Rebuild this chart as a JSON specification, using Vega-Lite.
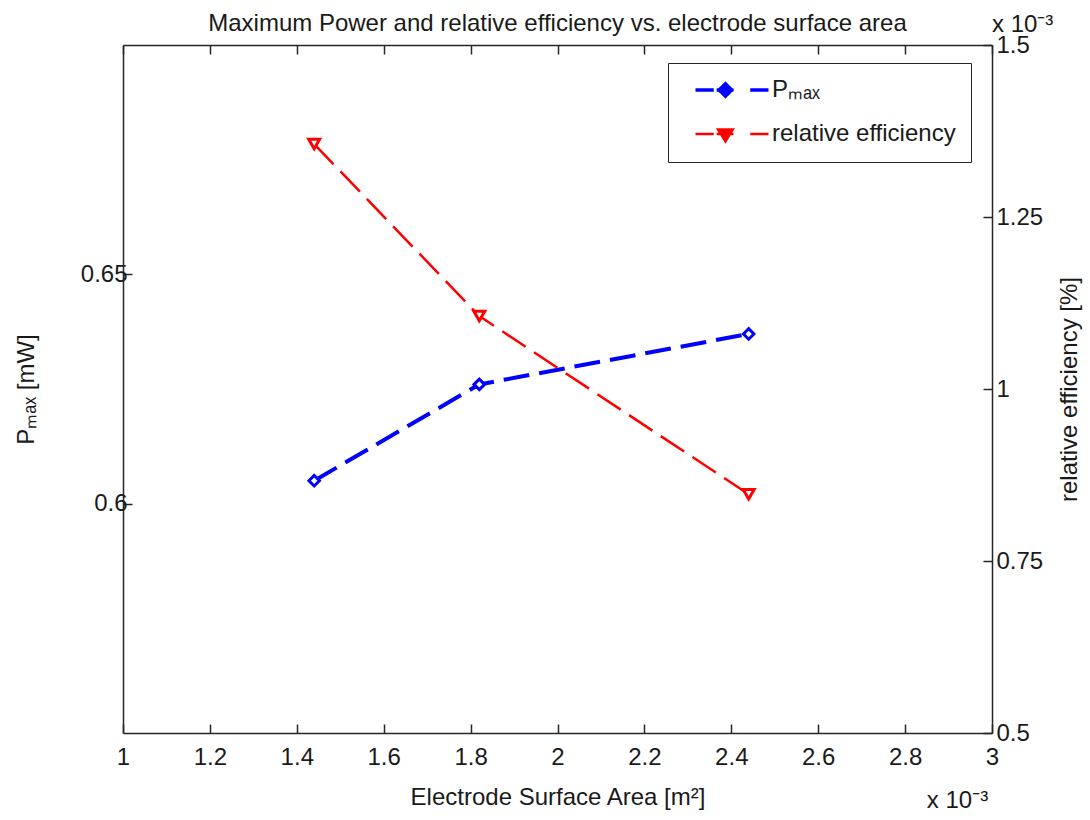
{
  "$schema": "https://vega.github.io/schema/vega-lite/v6.json",
  "width": 869,
  "height": 688,
  "autosize": {"type": "none"},
  "padding": {"left": 123, "top": 45, "right": 98, "bottom": 87},
  "background": "white",
  "title": {
    "text": "Maximum Power and relative efficiency vs. electrode surface area",
    "font": "Liberation Sans",
    "fontSize": 24,
    "fontWeight": "normal",
    "color": "#1a1a1a",
    "anchor": "middle",
    "offset": -23
  },
  "config": {
    "view": {"stroke": null},
    "axis": {
      "grid": false,
      "domainColor": "#262626",
      "domainWidth": 1.5,
      "tickColor": "#262626",
      "tickWidth": 1.5,
      "tickSize": -9,
      "labelFont": "Liberation Sans",
      "labelFontSize": 24,
      "labelColor": "#1a1a1a",
      "labelFlush": false,
      "labelOverlap": false,
      "titleFont": "Liberation Sans",
      "titleFontSize": 24,
      "titleFontWeight": "normal",
      "titleColor": "#1a1a1a"
    }
  },
  "data": {
    "values": [
      {"area": 0.00144, "series": "Pmax", "value": 0.605},
      {"area": 0.00182, "series": "Pmax", "value": 0.626},
      {"area": 0.00244, "series": "Pmax", "value": 0.637},
      {"area": 0.00144, "series": "relative efficiency", "value": 0.001356},
      {"area": 0.00182, "series": "relative efficiency", "value": 0.001106},
      {"area": 0.00244, "series": "relative efficiency", "value": 0.000847}
    ]
  },
  "layer": [
    {
      "layer": [
        {
          "transform": [{"filter": "datum.series === 'Pmax'"}],
          "mark": {"type": "line", "strokeWidth": 4, "strokeDash": [26, 10]},
          "encoding": {
            "x": {
              "field": "area",
              "type": "quantitative",
              "scale": {"domain": [0.001, 0.003], "nice": false, "zero": false},
              "axis": {
                "orient": "bottom",
                "values": [0.001, 0.0012, 0.0014, 0.0016, 0.0018, 0.002, 0.0022, 0.0024, 0.0026, 0.0028, 0.003],
                "labelExpr": "format(datum.value * 1000, '~g')",
                "labelPadding": 21,
                "title": "Electrode Surface Area [m²]",
                "titlePadding": 16
              }
            },
            "y": {
              "field": "value",
              "type": "quantitative",
              "scale": {"domain": [0.55, 0.7], "nice": false, "zero": false},
              "axis": {
                "orient": "left",
                "values": [0.6, 0.65],
                "labelExpr": "format(datum.value, '~g')",
                "labelPadding": 5,
                "title": "Pₘₐₓ [mW]",
                "titlePadding": 42
              }
            },
            "color": {
              "field": "series",
              "type": "nominal",
              "scale": {"domain": ["Pmax", "relative efficiency"], "range": ["#0000ff", "#ff0000"]},
              "legend": {
                "orient": "none",
                "legendX": 545,
                "legendY": 18,
                "title": null,
                "strokeColor": "#262626",
                "fillColor": "white",
                "padding": 15,
                "rowPadding": 18,
                "symbolSize": 900,
                "symbolOffset": 37,
                "labelOffset": 28,
                "labelLimit": 400,
                "labelFont": "Liberation Sans",
                "labelFontSize": 24,
                "labelColor": "#1a1a1a",
                "labelExpr": "datum.label === 'Pmax' ? 'Pₘₐₓ' : datum.label",
                "encode": {
                  "symbols": {
                    "update": {
                      "shape": {"signal": "datum.value === 'Pmax' ? 'M-1,0H-0.5M-0.42,0H0.04M0.5,0H1M-0.18,-0.17L-0.01,0L-0.18,0.17L-0.35,0Z' : 'M-1,0H-0.5M-0.42,0H0.04M0.5,0H1M-0.38,-0.12L0.02,-0.12L-0.18,0.2Z'"},
                      "size": {"value": 5329},
                      "stroke": {"signal": "datum.value === 'Pmax' ? '#0000ff' : '#ff0000'"},
                      "fill": {"signal": "datum.value === 'Pmax' ? '#0000ff' : '#ff0000'"},
                      "strokeWidth": {"signal": "datum.value === 'Pmax' ? 3.5 : 2.5"},
                      "strokeDash": {"value": [1, 0]},
                      "opacity": {"value": 1}
                    }
                  }
                }
              }
            }
          }
        },
        {
          "transform": [{"filter": "datum.series === 'Pmax'"}],
          "mark": {"type": "point", "shape": "diamond", "filled": true, "fill": "white", "stroke": "#0000ff", "strokeWidth": 3, "size": 110, "opacity": 1},
          "encoding": {
            "x": {"field": "area", "type": "quantitative"},
            "y": {"field": "value", "type": "quantitative"}
          }
        },
        {
          "transform": [{"aggregate": [{"op": "count", "as": "n"}]}],
          "mark": {"type": "text", "text": "x 10⁻³", "align": "left", "baseline": "middle", "dy": 68, "font": "Liberation Sans", "fontSize": 24, "color": "#1a1a1a"},
          "encoding": {
            "x": {"datum": 0.00285, "type": "quantitative"},
            "y": {"datum": 0.55, "type": "quantitative"}
          }
        }
      ]
    },
    {
      "layer": [
        {
          "transform": [{"filter": "datum.series === 'relative efficiency'"}],
          "mark": {"type": "line", "strokeWidth": 2.5, "strokeDash": [28, 10]},
          "encoding": {
            "x": {
              "field": "area",
              "type": "quantitative",
              "axis": {
                "orient": "top",
                "values": [0.001, 0.0012, 0.0014, 0.0016, 0.0018, 0.002, 0.0022, 0.0024, 0.0026, 0.0028, 0.003],
                "labels": false,
                "title": null
              }
            },
            "y": {
              "field": "value",
              "type": "quantitative",
              "scale": {"domain": [0.0005, 0.0015], "nice": false, "zero": false},
              "axis": {
                "orient": "right",
                "values": [0.0005, 0.00075, 0.001, 0.00125, 0.0015],
                "labelExpr": "format(datum.value * 1000, '~g')",
                "labelPadding": 13,
                "title": "relative efficiency [%]",
                "titleAngle": 270,
                "titlePadding": 39
              }
            },
            "color": {"field": "series", "type": "nominal"}
          }
        },
        {
          "transform": [{"filter": "datum.series === 'relative efficiency'"}],
          "mark": {"type": "point", "shape": "triangle-down", "filled": true, "fill": "white", "stroke": "#ff0000", "strokeWidth": 3, "size": 120, "opacity": 1},
          "encoding": {
            "x": {"field": "area", "type": "quantitative"},
            "y": {"field": "value", "type": "quantitative"}
          }
        },
        {
          "transform": [{"aggregate": [{"op": "count", "as": "n"}]}],
          "mark": {"type": "text", "text": "x 10⁻³", "align": "left", "baseline": "bottom", "dy": -8, "font": "Liberation Sans", "fontSize": 24, "color": "#1a1a1a"},
          "encoding": {
            "x": {"datum": 0.003, "type": "quantitative"},
            "y": {"datum": 0.0015, "type": "quantitative"}
          }
        }
      ]
    }
  ],
  "resolve": {"scale": {"y": "independent"}, "axis": {"x": "independent"}}
}
